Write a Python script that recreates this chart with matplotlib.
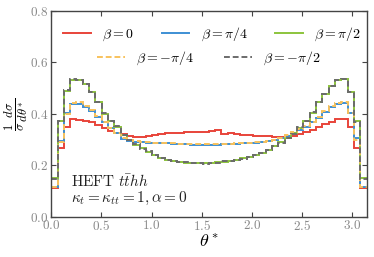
import numpy as np
import matplotlib
matplotlib.use("Agg")
import matplotlib.pyplot as plt
from matplotlib.ticker import FuncFormatter, MultipleLocator

plt.rcParams['mathtext.fontset'] = 'cm'
plt.rcParams['font.family'] = 'serif'

# 50 bins of theta* over [0, pi]
edges = np.linspace(0, np.pi, 51)

beta_0 = [0.110, 0.266, 0.350, 0.379, 0.378, 0.374, 0.367, 0.357, 0.345, 0.332,
          0.327, 0.322, 0.315, 0.311, 0.311, 0.314, 0.318, 0.322, 0.324, 0.324,
          0.326, 0.328, 0.330, 0.331, 0.330, 0.333, 0.337, 0.323, 0.324, 0.322,
          0.318, 0.316, 0.315, 0.314, 0.313, 0.311, 0.309, 0.310, 0.312, 0.322,
          0.328, 0.338, 0.350, 0.360, 0.370, 0.379, 0.380, 0.350, 0.266, 0.110]

beta_pi4 = [0.117, 0.296, 0.402, 0.437, 0.440, 0.428, 0.410, 0.388, 0.368, 0.345,
            0.325, 0.303, 0.296, 0.292, 0.290, 0.288, 0.287, 0.286, 0.285, 0.284,
            0.283, 0.281, 0.280, 0.279, 0.279, 0.279, 0.279, 0.281, 0.282, 0.283,
            0.285, 0.286, 0.288, 0.290, 0.293, 0.298, 0.305, 0.313, 0.325, 0.338,
            0.350, 0.367, 0.385, 0.408, 0.428, 0.440, 0.442, 0.402, 0.305, 0.117]

beta_pi2 = [0.150, 0.374, 0.490, 0.533, 0.530, 0.515, 0.485, 0.448, 0.400, 0.374,
            0.350, 0.318, 0.298, 0.280, 0.266, 0.253, 0.241, 0.229, 0.222, 0.217,
            0.213, 0.210, 0.208, 0.207, 0.207, 0.209, 0.211, 0.214, 0.218, 0.221,
            0.227, 0.233, 0.240, 0.247, 0.260, 0.274, 0.289, 0.305, 0.324, 0.346,
            0.372, 0.405, 0.447, 0.478, 0.508, 0.530, 0.535, 0.486, 0.372, 0.150]

beta_mpi4 = [0.115, 0.292, 0.400, 0.442, 0.445, 0.432, 0.414, 0.390, 0.370, 0.346,
             0.326, 0.305, 0.297, 0.293, 0.291, 0.289, 0.288, 0.287, 0.286, 0.285,
             0.284, 0.283, 0.282, 0.281, 0.281, 0.281, 0.281, 0.283, 0.284, 0.285,
             0.287, 0.288, 0.290, 0.292, 0.295, 0.300, 0.307, 0.316, 0.328, 0.340,
             0.352, 0.370, 0.388, 0.410, 0.432, 0.444, 0.446, 0.405, 0.300, 0.115]

beta_mpi2 = [0.148, 0.372, 0.492, 0.535, 0.531, 0.516, 0.486, 0.447, 0.402, 0.373,
             0.351, 0.319, 0.297, 0.281, 0.265, 0.254, 0.240, 0.230, 0.221, 0.218,
             0.212, 0.211, 0.207, 0.208, 0.206, 0.210, 0.210, 0.215, 0.217, 0.222,
             0.226, 0.234, 0.239, 0.248, 0.259, 0.275, 0.288, 0.306, 0.323, 0.347,
             0.371, 0.406, 0.446, 0.479, 0.507, 0.531, 0.536, 0.485, 0.370, 0.148]

fig = plt.figure(figsize=(3.74, 2.57), dpi=100)
ax = fig.add_axes([0.137, 0.157, 0.843, 0.80])

lw = 1.4
l0 = ax.stairs(beta_0, edges, baseline=None, color='#e8443a', lw=lw, label=r'$\beta=0$')
l1 = ax.stairs(beta_pi4, edges, baseline=None, color='#3d8fd4', lw=lw, label=r'$\beta=\pi/4$')
l2 = ax.stairs(beta_pi2, edges, baseline=None, color='#8cc43c', lw=lw, label=r'$\beta=\pi/2$')
l3 = ax.stairs(beta_mpi4, edges, baseline=None, color='#f8c25c', lw=lw, ls=(0, (3, 1.5)), label=r'$\beta=-\pi/4$')
l4 = ax.stairs(beta_mpi2, edges, baseline=None, color='#6b6b6b', lw=lw, ls=(0, (3, 1.5)), label=r'$\beta=-\pi/2$')

ax.set_xlim(0, np.pi)
ax.set_ylim(0, 0.8)
ax.xaxis.set_major_locator(MultipleLocator(0.5))
ax.yaxis.set_major_locator(MultipleLocator(0.2))
fmt = FuncFormatter(lambda v, p: f'${v:.1f}$')
ax.xaxis.set_major_formatter(fmt)
ax.yaxis.set_major_formatter(fmt)
ax.tick_params(direction='in', top=True, right=True, length=3.5, width=0.8,
               labelsize=9.5, labelcolor='#888888', color='#444444', pad=2)
for s in ax.spines.values():
    s.set_color('#444444')
    s.set_linewidth(1.0)

ax.set_xlabel(r'$\theta^*$', fontsize=13, labelpad=0)
ax.set_ylabel(r'$\frac{1}{\sigma}\frac{d\sigma}{d\theta^*}$', fontsize=13, labelpad=0)

# legend: three entries on top row, two on the second row
leg1 = ax.legend(handles=[l0, l1, l2], loc='upper center', bbox_to_anchor=(0.51, 0.955),
                 ncol=3, frameon=False, fontsize=10, handlelength=2.0,
                 columnspacing=2.0, handletextpad=0.8, borderaxespad=0)
ax.add_artist(leg1)
ax.legend(handles=[l3, l4], loc='upper center', bbox_to_anchor=(0.5, 0.84),
          ncol=2, frameon=False, fontsize=10, handlelength=2.0,
          columnspacing=2.2, handletextpad=0.8, borderaxespad=0)

ax.text(0.195, 0.136, r'$\mathrm{HEFT}\ t\bar{t}hh$', fontsize=11, va='center', color='#222222')
ax.text(0.195, 0.072, r'$\kappa_t=\kappa_{tt}=1, \alpha=0$', fontsize=11, va='center', color='#222222')

fig.savefig('out.png', dpi=100)
